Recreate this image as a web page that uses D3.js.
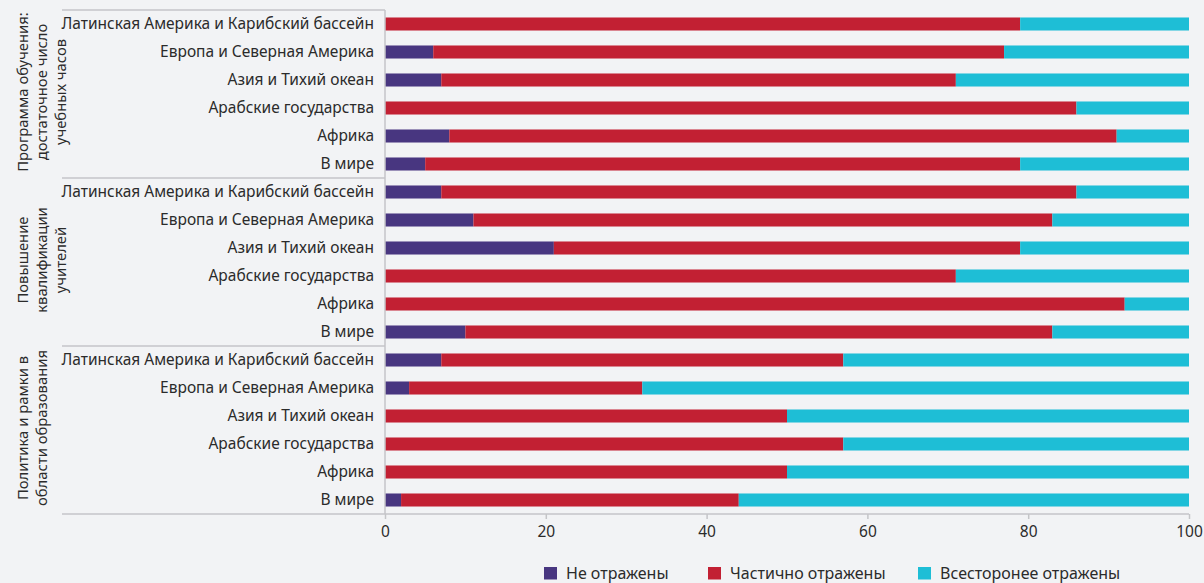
<!DOCTYPE html>
<html>
<head>
<meta charset="utf-8">
<script src="https://cdn.jsdelivr.net/npm/d3@7"></script>
<style>
  body { margin: 0; background: #f2f3f5; }
  text { font-family: "Noto Sans", "Open Sans", sans-serif; fill: #2b2b2b; }
</style>
</head>
<body>
<div id="chart"></div>
<script>
// groupes (de haut en bas) et regions
var groups = [
  ["Программа обучения:", "достаточное число", "учебных часов"],
  ["Повышение", "квалификации", "учителей"],
  ["Политика и рамки в", "области образования"]
];
var regions = ["Латинская Америка и Карибский бассейн", "Европа и Северная Америка",
  "Азия и Тихий океан", "Арабские государства", "Африка", "В мире"];

var seriesNames = ["Не отражены", "Частично отражены", "Всесторонее отражены"];
var colors = ["#483680", "#c22033", "#1ebed6"];

// valeurs en %, une ligne par groupe, dans l'ordre des regions
var notReflected = [
  [0, 6, 7, 0, 8, 5],
  [7, 11, 21, 0, 0, 10],
  [7, 3, 0, 0, 0, 2]
];
var partlyReflected = [
  [79, 71, 64, 86, 83, 74],
  [79, 72, 58, 71, 92, 73],
  [50, 29, 50, 57, 50, 42]
];
var fullyReflected = [
  [21, 23, 29, 14, 9, 21],
  [14, 17, 21, 29, 8, 17],
  [43, 68, 50, 43, 50, 56]
];
var ticks = [0, 20, 40, 60, 80, 100];

var width = 1204, height = 583;
var mLeft = 385, mRight = 1189, mTop = 10, mBottom = 514, labelLeft = 62;

var rows = [];
groups.forEach(function(g, gi){
  regions.forEach(function(r, ri){
    rows.push({key: gi + "-" + ri, label: r, group: gi,
      a: notReflected[gi][ri], b: partlyReflected[gi][ri], c: fullyReflected[gi][ri]});
  });
});

var svg = d3.select("#chart").append("svg")
  .attr("width", width)
  .attr("height", height);

var x = d3.scaleLinear().domain([0, 100]).range([mLeft, mRight]);
var y = d3.scaleBand()
  .domain(rows.map(function(d){ return d.key; }))
  .range([mTop, mBottom])
  .paddingInner(0.535)
  .paddingOuter(0.2675);

var stack = d3.stack().keys(["a", "b", "c"]);
var layers = stack(rows);

svg.selectAll("g.layer")
  .data(layers)
  .enter().append("g")
  .attr("class", "layer")
  .attr("fill", function(d, i){ return colors[i]; })
  .selectAll("rect")
  .data(function(d){ return d; })
  .enter().append("rect")
  .attr("x", function(d){ return x(d[0]); })
  .attr("width", function(d){ return x(d[1]) - x(d[0]); })
  .attr("y", function(d){ return y(d.data.key); })
  .attr("height", y.bandwidth());

// etiquettes des regions
svg.selectAll("text.cat")
  .data(rows)
  .enter().append("text")
  .attr("class", "cat")
  .attr("x", 374)
  .attr("y", function(d){ return y(d.key) + y.bandwidth() / 2; })
  .attr("dy", "0.35em")
  .attr("text-anchor", "end")
  .style("font-size", "15.5px")
  .text(function(d){ return d.label; });

// lignes de separation des groupes
var step = y.step();
var seps = [0, 6, 12];
svg.selectAll("line.sep")
  .data(seps)
  .enter().append("line")
  .attr("x1", labelLeft).attr("x2", mLeft)
  .attr("y1", function(d){ return mTop + d * step; })
  .attr("y2", function(d){ return mTop + d * step; })
  .attr("stroke", "#c4c5c8").attr("stroke-width", 1.5);

// ligne verticale
svg.append("line")
  .attr("x1", mLeft).attr("x2", mLeft)
  .attr("y1", mTop).attr("y2", mBottom)
  .attr("stroke", "#c4c5c8").attr("stroke-width", 1.5);

// axe du bas
var axis = svg.append("g")
  .attr("transform", "translate(0," + mBottom + ")")
  .call(d3.axisBottom(x).tickValues(ticks).tickSize(5).tickPadding(7));
axis.select(".domain").remove();
axis.selectAll(".tick line").attr("stroke", "#c4c5c8").attr("stroke-width", 1.5);
axis.selectAll(".tick text")
  .style("font-size", "15.5px")
  .style("font-family", "'Noto Sans', sans-serif")
  .attr("fill", "#2b2b2b");
svg.append("line")
  .attr("x1", labelLeft).attr("x2", mRight)
  .attr("y1", mBottom).attr("y2", mBottom)
  .attr("stroke", "#c4c5c8").attr("stroke-width", 1.5);

// titres des groupes (verticaux)
groups.forEach(function(lines, gi){
  var cy = mTop + (gi * 6 + 3) * step - 2;
  var t = svg.append("text")
    .attr("transform", "translate(23," + cy + ") rotate(-90)")
    .attr("text-anchor", "middle")
    .style("font-size", "14.8px");
  lines.forEach(function(l, li){
    t.append("tspan")
      .attr("x", 0)
      .attr("y", li * 18.7)
      .attr("dy", "0.35em")
      .text(l);
  });
});

// legende
var legendX = [544, 708, 918];
var leg = svg.selectAll("g.leg")
  .data(seriesNames)
  .enter().append("g")
  .attr("class", "leg")
  .attr("transform", function(d, i){ return "translate(" + legendX[i] + ",567)"; });
leg.append("rect")
  .attr("width", 13).attr("height", 12.5)
  .attr("fill", function(d, i){ return colors[i]; });
leg.append("text")
  .attr("x", 22).attr("y", 6.5)
  .attr("dy", "0.35em")
  .style("font-size", "16px")
  .text(function(d){ return d; });
</script>
</body>
</html>
